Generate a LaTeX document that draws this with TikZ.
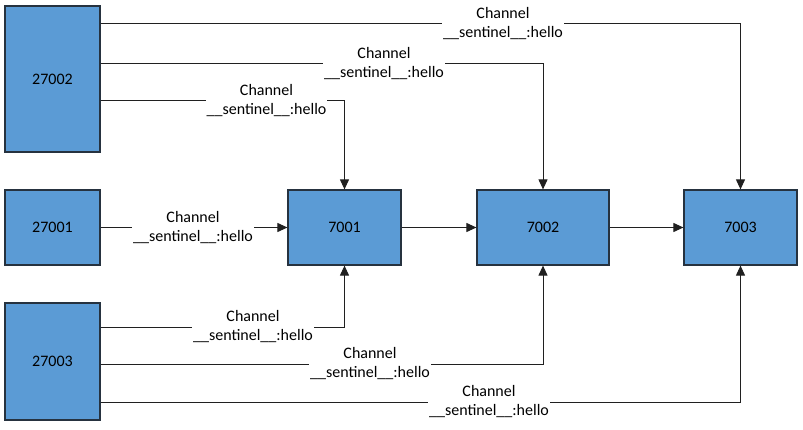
\documentclass[tikz,border=0pt]{standalone}
\usepackage{fontspec}
\setmainfont{Carlito}
\usetikzlibrary{arrows.meta,calc}
\definecolor{boxblue}{HTML}{5B9BD5}
\definecolor{boxline}{HTML}{26323F}
\definecolor{lnk}{HTML}{202020}
\begin{document}
\begin{tikzpicture}[x=1pt,y=-1pt,
  box/.style={draw=boxline,line width=1.2pt,fill=boxblue,inner sep=0pt,
    font=\fontsize{16}{19}\selectfont},
  conn/.style={draw=lnk,line width=1pt,-{Triangle[length=10pt,width=9pt]}},
  lbl/.style={fill=white,inner xsep=1pt,inner ysep=0pt,align=center,
    font=\fontsize{16}{19}\selectfont}]
\useasboundingbox (0,0) rectangle (803,430);
% boxes
\node[box,minimum width=95pt,minimum height=146pt] (n27002) at (52.5,79) {27002};
\node[box,minimum width=95pt,minimum height=75pt] (n27001) at (52.5,227.5) {27001};
\node[box,minimum width=95pt,minimum height=117pt] (n27003) at (52.5,361.5) {27003};
\node[box,minimum width=113pt,minimum height=75pt] (n7001) at (344.5,227.5) {7001};
\node[box,minimum width=132pt,minimum height=75pt] (n7002) at (543,227.5) {7002};
\node[box,minimum width=113pt,minimum height=75pt] (n7003) at (740.5,227.5) {7003};
% levels
\coordinate (y1) at (0,24);
\coordinate (y2) at (0,64);
\coordinate (y3) at (0,101);
\coordinate (y4) at (0,327);
\coordinate (y5) at (0,364);
\coordinate (y6) at (0,402);
% connectors
\draw[conn] (n27002.east |- y1) -| (n7003.north);
\draw[conn] (n27002.east |- y2) -| (n7002.north);
\draw[conn] (n27002.east |- y3) -| (n7001.north);
\draw[conn] (n27001.east) -- (n7001.west);
\draw[conn] (n7001.east) -- (n7002.west);
\draw[conn] (n7002.east) -- (n7003.west);
\draw[conn] (n27003.east |- y4) -| (n7001.south);
\draw[conn] (n27003.east |- y5) -| (n7002.south);
\draw[conn] (n27003.east |- y6) -| (n7003.south);
% labels
\node[lbl] (l1) at (503,24) {Channel\\\_\_sentinel\_\_:hello};
\node[lbl] (l2) at (384,64) {Channel\\\_\_sentinel\_\_:hello};
\node[lbl] (l3) at (266.5,101) {Channel\\\_\_sentinel\_\_:hello};
\node[lbl] (l4) at (193,227.5) {Channel\\\_\_sentinel\_\_:hello};
\node[lbl] (l5) at (253,327) {Channel\\\_\_sentinel\_\_:hello};
\node[lbl] (l6) at (370,364) {Channel\\\_\_sentinel\_\_:hello};
\node[lbl] (l7) at (489,402) {Channel\\\_\_sentinel\_\_:hello};
\end{tikzpicture}
\end{document}
